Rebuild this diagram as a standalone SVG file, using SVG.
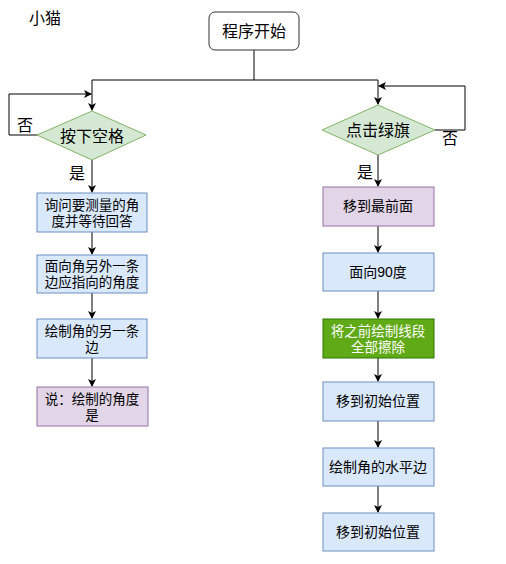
<svg xmlns="http://www.w3.org/2000/svg" width="506" height="564" viewBox="0 0 506 564">
<defs>
<marker id="ah" markerWidth="8" markerHeight="8" refX="7" refY="4" orient="auto" markerUnits="userSpaceOnUse">
<path d="M0,0 L8,4 L0,8 L2,4 Z" fill="#000"/>
</marker>
<style>
text{font-family:"Liberation Sans","Noto Sans CJK SC",sans-serif;fill:#000;text-anchor:middle;dominant-baseline:central}
.t16{font-size:16px}
.t14{font-size:14px}
.t13{font-size:13.5px}
.blue{fill:#dae8fc;stroke:#6c8ebf;stroke-width:1}
.purple{fill:#e1d5e7;stroke:#9673a6;stroke-width:1}
.green{fill:#60a917;stroke:#2d7600;stroke-width:1}
.dia{fill:#d5e8d4;stroke:#82b366;stroke-width:1}
.e{fill:none;stroke:#000;stroke-width:1}
</style>
</defs>
<rect width="506" height="564" fill="#fff"/>
<text x="45" y="18" class="t16">小猫</text>
<g id="connectors">
<path class="e" d="M254,50 V80 H92 V110" marker-end="url(#ah)"/>
<path class="e" d="M254,80 H378 V104" marker-end="url(#ah)"/>
<path class="e" d="M37,135 H9 V94 H91" marker-end="url(#ah)"/>
<path class="e" d="M435,130 H465 V86 H379" marker-end="url(#ah)"/>
<path class="e" d="M92,160 V192" marker-end="url(#ah)"/>
<path class="e" d="M92,232 V254" marker-end="url(#ah)"/>
<path class="e" d="M92,293 V318" marker-end="url(#ah)"/>
<path class="e" d="M92,358 V386" marker-end="url(#ah)"/>
<path class="e" d="M378,155 V186" marker-end="url(#ah)"/>
<path class="e" d="M378,226 V252" marker-end="url(#ah)"/>
<path class="e" d="M378,291 V318" marker-end="url(#ah)"/>
<path class="e" d="M378,358 V381" marker-end="url(#ah)"/>
<path class="e" d="M378,421 V447" marker-end="url(#ah)"/>
<path class="e" d="M378,486 V512" marker-end="url(#ah)"/>
<text x="25" y="125" class="t16">否</text>
<text x="450" y="138" class="t16">否</text>
<text x="77" y="173" class="t16">是</text>
<text x="365" y="172" class="t16">是</text>
</g>
<g id="start">
<rect x="209" y="12" width="90" height="38" rx="6" fill="#fff" stroke="#333" stroke-width="1"/>
<text x="254" y="31" class="t16">程序开始</text>
</g>
<g id="space">
<polygon class="dia" points="92,111 146,135 92,160 37,135"/>
<text x="92" y="136" class="t16">按下空格</text>
</g>
<g id="flag">
<polygon class="dia" points="378,105 435,130 378,155 322,130"/>
<text x="378" y="130" class="t16">点击绿旗</text>
</g>
<g id="ask">
<rect class="blue" x="37" y="193" width="110" height="39"/>
<text class="t13"><tspan x="92" y="204.5">询问要测量的角</tspan><tspan x="92" y="220.5">度并等待回答</tspan></text>
</g>
<g id="face">
<rect class="blue" x="37" y="255" width="110" height="38"/>
<text class="t13"><tspan x="92" y="266">面向角另外一条</tspan><tspan x="92" y="282">边应指向的角度</tspan></text>
</g>
<g id="drawother">
<rect class="blue" x="37" y="319" width="110" height="39"/>
<text class="t13"><tspan x="92" y="330.5">绘制角的另一条</tspan><tspan x="92" y="346.5">边</tspan></text>
</g>
<g id="say">
<rect class="purple" x="37" y="387" width="111" height="39"/>
<text class="t13"><tspan x="92" y="398.5">说：绘制的角度</tspan><tspan x="92" y="414.5">是</tspan></text>
</g>
<g id="front">
<rect class="purple" x="323" y="187" width="111" height="39"/>
<text x="378" y="206" class="t14">移到最前面</text>
</g>
<g id="face90">
<rect class="blue" x="323" y="253" width="111" height="38"/>
<text x="378" y="272" class="t14">面向90度</text>
</g>
<g id="erase">
<rect class="green" x="323" y="319" width="111" height="39"/>
<text class="t13" style="fill:#fff"><tspan x="378" y="330.5">将之前绘制线段</tspan><tspan x="378" y="346.5">全部擦除</tspan></text>
</g>
<g id="move1">
<rect class="blue" x="323" y="382" width="111" height="39"/>
<text x="378" y="401" class="t14">移到初始位置</text>
</g>
<g id="drawh">
<rect class="blue" x="323" y="448" width="111" height="38"/>
<text x="378" y="467" class="t14">绘制角的水平边</text>
</g>
<g id="move2">
<rect class="blue" x="323" y="513" width="111" height="38"/>
<text x="378" y="532" class="t14">移到初始位置</text>
</g>
</svg>
